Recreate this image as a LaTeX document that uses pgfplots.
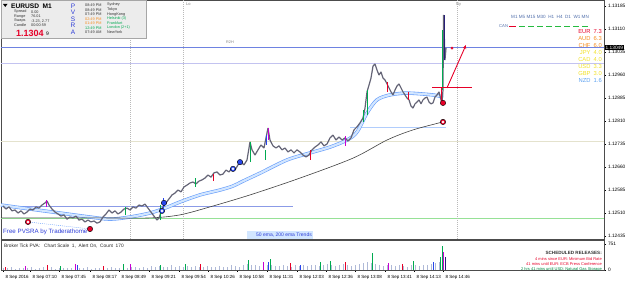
\documentclass[border=0pt]{standalone}
\usepackage{pgfplots}
\pgfplotsset{compat=1.18}
\usepackage{fontspec}
\setmainfont{Liberation Sans}
\usetikzlibrary{arrows.meta}
\definecolor{pvgreen}{RGB}{0,170,80}
\definecolor{pvred}{RGB}{230,0,40}
\definecolor{pvmag}{RGB}{200,0,210}
\definecolor{pvblue}{RGB}{40,70,235}
\definecolor{pvnavy}{RGB}{40,30,120}
\definecolor{candle}{RGB}{100,100,118}
\definecolor{volgrey}{RGB}{175,185,215}
\definecolor{emaedge}{RGB}{100,155,250}
\definecolor{emafill}{RGB}{210,230,255}
\definecolor{pricel}{RGB}{110,130,225}
\definecolor{lavender}{RGB}{195,195,240}
\definecolor{beige}{RGB}{228,226,205}
\definecolor{lgreen}{RGB}{150,225,150}
\definecolor{panel}{RGB}{236,236,236}
\definecolor{mtblue}{RGB}{45,60,215}
\definecolor{orng}{RGB}{245,140,30}
\definecolor{yell}{RGB}{240,225,40}
\definecolor{nzd}{RGB}{90,160,240}
\definecolor{tfc}{RGB}{80,110,170}
\newcommand\fs[1]{\fontsize{#1}{#1}\selectfont}
\begin{document}
\begin{tikzpicture}
\path[use as bounding box] (0,0) rectangle (625pt,284pt);
% ---------------- main price window ----------------
\begin{axis}[
  at={(1pt,45pt)}, anchor=south west, scale only axis,
  width=603pt, height=239pt,
  xmin=1, xmax=604, ymin=1.124253, ymax=1.132046,
  axis line style={black!70, line width=0.5pt},
  xtick=\empty,
  ytick={1.12435,1.12510,1.12585,1.12660,1.12735,1.12810,1.12885,1.12960,1.13035,1.13110,1.13185},
  yticklabels={1.12435,1.12510,1.12585,1.12660,1.12735,1.12810,1.12885,1.12960,1.13035,1.13110,1.13185},
  ytick pos=right, yticklabel pos=right,
  tick align=outside, major tick length=2pt,
  tick style={black, line width=0.4pt},
  yticklabel style={font=\fs{4.8}, xshift=-1.5pt},
]
% horizontal levels
\addplot[lavender, line width=0.6pt] coordinates {(1,1.12999) (604,1.12999)};
\addplot[beige, line width=0.8pt] coordinates {(1,1.12745) (604,1.12745)};
\addplot[lgreen, line width=0.6pt] coordinates {(1,1.12494) (604,1.12494)};
\addplot[pricel!80, line width=0.6pt] coordinates {(1,1.12533) (293,1.12533)};
\addplot[pricel, line width=0.6pt] coordinates {(1,1.13049) (604,1.13049)};
\addplot[emaedge!50, line width=0.5pt] coordinates {(350,1.12791) (446,1.12791)};
% session lines
\addplot[gray!55, line width=0.4pt, dash pattern=on 1pt off 1pt] coordinates {(130,1.124253) (130,1.132046)};
\addplot[gray!55, line width=0.4pt, dash pattern=on 1pt off 1pt] coordinates {(183,1.124253) (183,1.132046)};
\addplot[gray!55, line width=0.4pt, dash pattern=on 1pt off 1pt] coordinates {(457,1.124253) (457,1.132046)};
% divergence line
\addplot[emaedge, line width=0.4pt, dash pattern=on 1pt off 1pt] coordinates {(28,1.12481) (90,1.12458)};
% 50 ema band
\addplot[emaedge, line width=3.4pt, smooth] coordinates {
(1,1.12536) (30,1.12523) (60,1.12510) (90,1.12497) (110,1.12490) (130,1.12497) (150,1.12510) (165,1.12526) (180,1.12546) (200,1.12569) (220,1.12585) (233,1.12598) (243,1.12614) (260,1.12640) (287,1.12683) (310,1.12706) (330,1.12725) (347,1.12748) (357,1.12774) (367,1.12836) (377,1.12879) (390,1.12895) (407,1.12901) (433,1.12895) (443,1.12888)};
\addplot[emafill, line width=2.2pt, smooth] coordinates {
(1,1.12536) (30,1.12523) (60,1.12510) (90,1.12497) (110,1.12490) (130,1.12497) (150,1.12510) (165,1.12526) (180,1.12546) (200,1.12569) (220,1.12585) (233,1.12598) (243,1.12614) (260,1.12640) (287,1.12683) (310,1.12706) (330,1.12725) (347,1.12748) (357,1.12774) (367,1.12836) (377,1.12879) (390,1.12895) (407,1.12901) (433,1.12895) (443,1.12888)};
% 200 ema
\addplot[black!75, line width=0.6pt, smooth] coordinates {
(1,1.12494) (50,1.12494) (100,1.12494) (150,1.12494) (180,1.12504) (210,1.12530) (250,1.12569) (300,1.12624) (353,1.12689) (387,1.12748) (413,1.12781) (443,1.12807)};
% price (M1 bars)
\addplot[candle, line width=1.2pt, line join=bevel] coordinates {
(3,1.12533) (6,1.12523) (9,1.12530) (12,1.12517) (15,1.12520) (18,1.12510) (21,1.12517) (24,1.12507) (27,1.12513) (30,1.12523) (33,1.12520) (36,1.12530) (39,1.12526) (42,1.12536) (45,1.12543) (47,1.12549) (49,1.12536) (52,1.12523) (55,1.12513) (58,1.12507) (61,1.12500) (64,1.12504) (67,1.12490) (70,1.12497) (73,1.12494) (76,1.12500) (79,1.12487) (82,1.12490) (85,1.12481) (88,1.12487) (91,1.12481) (94,1.12484) (97,1.12477) (100,1.12481) (103,1.12497) (106,1.12507) (109,1.12520) (112,1.12510) (115,1.12517) (118,1.12507) (121,1.12513) (124,1.12523) (127,1.12526) (130,1.12520) (133,1.12530) (136,1.12526) (139,1.12536) (142,1.12533) (145,1.12539) (148,1.12526) (151,1.12513) (154,1.12500) (157,1.12487) (159,1.12494) (161,1.12513) (163,1.12530) (166,1.12543) (169,1.12556) (172,1.12569) (175,1.12575) (178,1.12585) (181,1.12579) (184,1.12595) (187,1.12601) (190,1.12608) (193,1.12611) (196,1.12605) (199,1.12614) (202,1.12618) (205,1.12624) (208,1.12634) (211,1.12627) (214,1.12641) (217,1.12644) (220,1.12634) (223,1.12637) (226,1.12650) (229,1.12644) (232,1.12657) (235,1.12650) (238,1.12667) (241,1.12676) (244,1.12667) (247,1.12683) (250,1.12742) (252,1.12716) (255,1.12699) (258,1.12716) (261,1.12732) (264,1.12722) (266,1.12755) (268,1.12787) (270,1.12748) (273,1.12729) (276,1.12722) (279,1.12729) (282,1.12716) (285,1.12722) (288,1.12709) (291,1.12716) (294,1.12706) (297,1.12716) (300,1.12709) (303,1.12699) (306,1.12693) (309,1.12699) (312,1.12716) (315,1.12725) (318,1.12732) (321,1.12742) (324,1.12729) (327,1.12735) (330,1.12755) (333,1.12764) (336,1.12748) (339,1.12758) (342,1.12748) (345,1.12755) (348,1.12745) (351,1.12755) (354,1.12781) (357,1.12791) (360,1.12804) (363,1.12820) (365,1.12852) (367,1.12905) (369,1.12927) (371,1.12950) (373,1.12989) (375,1.12996) (377,1.12976) (379,1.12960) (381,1.12970) (383,1.12950) (385,1.12944) (387,1.12931) (389,1.12918) (391,1.12905) (393,1.12895) (395,1.12911) (397,1.12924) (399,1.12931) (401,1.12918) (403,1.12905) (405,1.12895) (407,1.12885) (409,1.12879) (411,1.12859) (413,1.12852) (415,1.12866) (417,1.12872) (419,1.12879) (421,1.12866) (423,1.12879) (425,1.12885) (427,1.12888) (429,1.12872) (431,1.12866) (433,1.12869) (435,1.12888) (437,1.12895) (439,1.12905) (441,1.12879) (442,1.12869) (443,1.12911) (443.5,1.13156) (444,1.13123) (445,1.13009) (446,1.13048)};
% PVSRA coloured bars
\addplot[pvmag, line width=1pt] coordinates {(47,1.12530) (47,1.12552)};
\addplot[pvgreen, line width=1pt] coordinates {(125,1.12504) (125,1.12530)};
\addplot[pvgreen, line width=1pt] coordinates {(160,1.12487) (160,1.12536)};
\addplot[pvblue, line width=1pt] coordinates {(163,1.12526) (163,1.12559)};
\addplot[pvgreen, line width=1pt] coordinates {(195,1.12595) (195,1.12624)};
\addplot[pvred, line width=1pt] coordinates {(213,1.12614) (213,1.12637)};
\addplot[pvgreen, line width=1pt] coordinates {(250,1.12676) (250,1.12742)};
\addplot[pvgreen, line width=1pt] coordinates {(265,1.12683) (265,1.12716)};
\addplot[pvblue, line width=1pt] coordinates {(266,1.12732) (266,1.12764)};
\addplot[pvmag, line width=1pt] coordinates {(268,1.12748) (268,1.12787)};
\addplot[pvred, line width=1pt] coordinates {(310,1.12683) (310,1.12716)};
\addplot[pvmag, line width=1pt] coordinates {(345,1.12729) (345,1.12761)};
\addplot[pvgreen, line width=1pt] coordinates {(363,1.12807) (363,1.12846)};
\addplot[pvgreen, line width=1pt] coordinates {(367,1.12830) (367,1.12911)};
\addplot[pvred, line width=1pt] coordinates {(387,1.12905) (387,1.12937)};
\addplot[pvred, line width=1pt] coordinates {(408,1.12879) (408,1.12905)};
\addplot[pvred, line width=1pt] coordinates {(441,1.12866) (441,1.12918)};
\addplot[pvgreen, line width=1pt] coordinates {(442.5,1.12911) (442.5,1.13107)};
\addplot[pvnavy, line width=1pt] coordinates {(444,1.13009) (444,1.13156)};
% range line and arrow
\addplot[pvred, line width=0.9pt] coordinates {(432,1.12918) (472,1.12918)};
\addplot[pvred, line width=0.9pt, -{Stealth[length=4pt,width=3.5pt]}] coordinates {(447,1.12918) (466,1.13058)};
% signal dots
\addplot[only marks, mark=*, mark size=2.7pt, mark options={fill=pvred, draw=black, line width=0.4pt}] coordinates {(28,1.12481) (90,1.12458) (443,1.12869) (443,1.12807)};
\addplot[only marks, mark=*, mark size=2.7pt, mark options={fill=pvblue, draw=black, line width=0.4pt}] coordinates {(164,1.12543) (162,1.12517) (240,1.12676) (233,1.12654)};
\addplot[only marks, mark=*, mark size=1.1pt, mark options={fill=white, draw=white}] coordinates {(28,1.12481) (443,1.12807) (162,1.12517) (233,1.12654)};
\addplot[only marks, mark=*, mark size=1.2pt, mark options={fill=pvred, draw=pvred}] coordinates {(452,1.13048)};
\end{axis}
% ---------------- volume sub-window ----------------
\begin{axis}[
  at={(1pt,14pt)}, anchor=south west, scale only axis,
  width=603pt, height=30pt,
  xmin=1, xmax=604, ymin=0, ymax=866,
  axis line style={black!70, line width=0.5pt},
  ytick={0,751}, yticklabels={0,751},
  ytick pos=right, yticklabel pos=right,
  xtick={3,30,59,90,119,149,179,208,237,267,297,326,355,385,414,443},
  xticklabels={8 Sep 2016,8 Sep 07:10,8 Sep 07:45,8 Sep 08:17,8 Sep 08:49,8 Sep 09:21,8 Sep 09:54,8 Sep 10:26,8 Sep 10:58,8 Sep 11:31,8 Sep 12:03,8 Sep 12:36,8 Sep 13:08,8 Sep 13:41,8 Sep 14:13,8 Sep 14:46},
  xtick pos=bottom,
  tick align=outside, major tick length=2pt,
  tick style={black, line width=0.4pt},
  yticklabel style={font=\fs{4.8}, xshift=-1.5pt},
  xticklabel style={font=\fs{4.5}, anchor=north west, xshift=-1pt, yshift=0.5pt},
]
\addplot[ycomb, volgrey, line width=0.9pt] table[row sep=\\] {x v\\
3 60\\ 7 45\\ 11 80\\ 15 40\\ 19 55\\ 23 70\\ 27 50\\ 31 90\\ 35 40\\ 39 60\\ 43 75\\ 47 55\\ 51 85\\ 55 40\\ 59 65\\ 63 50\\ 67 70\\ 71 45\\ 75 90\\ 79 60\\ 83 50\\ 87 75\\ 91 40\\ 95 65\\ 99 55\\ 103 80\\ 107 60\\ 111 95\\ 115 50\\ 119 70\\ 123 85\\ 127 60\\ 131 100\\ 135 75\\ 139 60\\ 143 90\\ 147 70\\ 151 110\\ 155 80\\ 159 120\\ 163 100\\ 167 85\\ 171 130\\ 175 90\\ 179 110\\ 183 95\\ 187 120\\ 191 80\\ 195 105\\ 199 90\\ 203 75\\ 207 110\\ 211 95\\ 215 85\\ 219 120\\ 223 100\\ 227 90\\ 231 130\\ 235 110\\ 239 95\\ 243 140\\ 247 160\\ 251 130\\ 255 150\\ 259 120\\ 263 170\\ 267 140\\ 271 150\\ 275 120\\ 279 110\\ 283 140\\ 287 120\\ 291 100\\ 295 130\\ 299 110\\ 303 140\\ 307 120\\ 311 150\\ 315 130\\ 319 110\\ 323 140\\ 327 160\\ 331 130\\ 335 120\\ 339 150\\ 343 170\\ 347 140\\ 351 120\\ 355 150\\ 359 180\\ 363 200\\ 367 220\\ 371 190\\ 375 160\\ 379 140\\ 383 120\\ 387 150\\ 391 130\\ 395 110\\ 399 140\\ 403 120\\ 407 100\\ 411 130\\ 415 140\\ 419 110\\ 423 130\\ 427 150\\ 431 170\\ 435 190\\ 439 220\\
};
\addplot[ycomb, pvgreen, line width=0.9pt] coordinates {(60,110) (123,160) (160,150) (185,180) (248,300) (270,330) (320,220) (330,250) (372,490) (413,260) (440,380) (442,690)};
\addplot[ycomb, pvred, line width=0.9pt] coordinates {(5,90) (47,130) (103,120) (200,160) (290,200) (345,220) (402,180)};
\addplot[ycomb, pvmag, line width=0.9pt] coordinates {(25,110) (75,170) (130,170) (263,240) (388,200) (443.5,520)};
\addplot[ycomb, pvblue, line width=0.9pt] coordinates {(77,140) (268,230) (300,150) (433,230)};
\addplot[ycomb, pvnavy, line width=0.9pt] coordinates {(445,380)};
\end{axis}
% ---------------- text overlays (pixel frame) ----------------
\begin{scope}[x=1pt, y=-1pt, yshift=284pt]
% info panel
\fill[panel] (1,0.5) rectangle (146,38);
\draw[gray!70, line width=0.4pt] (1,0.5) rectangle (146,38);
\fill (3,4) -- (7.5,4) -- (5.25,7) -- cycle;
\node[anchor=west, font=\bfseries\fs{6.6}, inner sep=0] at (11,6.5) {EURUSD\ \ M1};
\begin{scope}[every node/.style={anchor=west, font=\fs{3.8}, inner sep=0, text=black!80}]
\node at (14,12) {Spread}; \node at (31,12) {0.00};
\node at (14,16.5) {Range}; \node at (31,16.5) {76.01};
\node at (14,21) {Swaps}; \node at (31,21) {-3.23, 2.77};
\node at (14,25.5) {Candle}; \node at (31,25.5) {00:00:59};
\node at (85,5) {08:49 PM}; \node at (107,5) {Sydney};
\node at (85,10) {08:49 PM}; \node at (107,10) {Tokyo};
\node at (85,14.5) {07:49 PM}; \node at (107,14.5) {HongKong};
\node[text=orng] at (85,19) {02:49 PM}; \node[text=pvgreen] at (107,19) {Helsinki (3)};
\node[text=orng] at (85,23.5) {01:49 PM}; \node[text=pvgreen] at (107,23.5) {Frankfurt};
\node[text=pvgreen] at (85,28) {12:49 PM}; \node[text=pvgreen] at (107,28) {London (2+1)};
\node at (85,32.5) {07:49 AM}; \node at (107,32.5) {NewYork};
\end{scope}
\node[anchor=west, font=\bfseries\fs{9}, text=pvred, inner sep=0] at (16,33.5) {1.1304};
\node[anchor=west, font=\fs{5}, inner sep=0] at (46,34) {9};
\begin{scope}[every node/.style={font=\fs{6.5}, text=mtblue, inner sep=0}]
\node at (73,6) {P}; \node at (73,12.5) {V}; \node at (73,19) {S}; \node at (73,25.5) {R}; \node at (73,32) {A};
\end{scope}
% session labels
\node[anchor=west, font=\fs{4}, text=gray, inner sep=0] at (186,4) {Lo};
\node[anchor=west, font=\fs{4}, text=gray, inner sep=0] at (456,5) {Ny};
\node[anchor=west, font=\fs{3.8}, text=gray, inner sep=0] at (226,42) {R2H};
% timeframe strip
\node[anchor=west, font=\fs{4.6}, text=tfc, inner sep=0] at (511,17) {M1 M5 M15 M30\ \ H1\ \ H4\ \ D1\ \ W1 MN};
\node[anchor=west, font=\fs{4.2}, text=tfc, inner sep=0] at (499,26.5) {CAN};
\draw[pvred, line width=1.4pt] (509,26.5) -- (516,26.5);
\foreach \i in {0,...,7} {\draw[pvgreen!80!lime, line width=1.4pt] ({519+9*\i},26.5) -- ({525+9*\i},26.5);}
% currency strength
\begin{scope}[every node/.style={anchor=east, font=\fs{5.8}, inner sep=0}]
\node[text=pvred] at (602,32) {EUR\ \ 7.3};
\node[text=orng] at (602,39) {AUD\ \ 6.3};
\node[text=orng] at (602,46) {CHF\ \ 6.0};
\node[text=yell] at (602,53) {JPY\ \ 4.0};
\node[text=yell] at (602,60) {CAD\ \ 4.0};
\node[text=yell] at (602,67) {USD\ \ 3.3};
\node[text=yell] at (602,74) {GBP\ \ 3.0};
\node[text=nzd] at (602,81) {NZD\ \ 1.6};
\end{scope}
% current price tag
\node[fill=black, text=white, font=\fs{4.8}, anchor=west, inner xsep=1pt, inner ysep=0.8pt] at (604.5,47.7) {1.13049};
% bottom captions
\node[anchor=west, font=\fs{6.2}, text=mtblue, inner sep=0] at (3,231.5) {Free PVSRA by Traderathome};
\fill[emafill] (247,231.5) rectangle (313,239);
\node[anchor=east, font=\fs{5}, text=mtblue, inner sep=0] at (312,235.5) {50 ema, 200 ema Trends};
\node[anchor=west, font=\fs{4.8}, text=black!85, inner sep=0] at (4,246) {Broker Tick PVA:\ \ \ Chart Scale\ \ 1,\ \ Alert On,\ \ Count\ \ 170};
\begin{scope}[every node/.style={anchor=east, inner sep=0}]
\node[font=\bfseries\fs{4.6}, text=black!80] at (602,253) {SCHEDULED RELEASES:};
\node[font=\fs{4}, text=pvred] at (602,259) {4 mins since EUR: Minimum Bid Rate};
\node[font=\fs{4}, text=pvred] at (602,264) {41 mins until EUR: ECB Press Conference};
\node[font=\fs{4}, text=pvgreen!80!black] at (602,269) {2 hrs 41 mins until USD: Natural Gas Storage};
\end{scope}
\end{scope}
\end{tikzpicture}
\end{document}
